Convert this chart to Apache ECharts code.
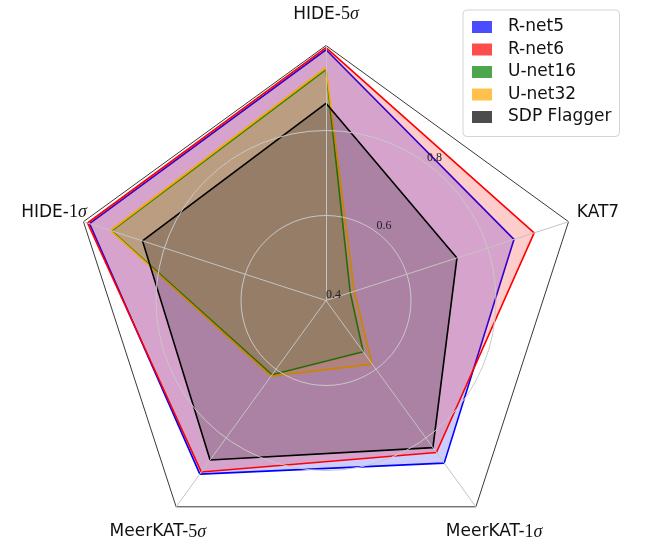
<!DOCTYPE html>
<html>
<head>
<meta charset="utf-8">
<script src="https://cdn.jsdelivr.net/npm/echarts@6/dist/echarts.min.js"></script>
<style>
  html, body { margin: 0; padding: 0; background: #fff; }
  #chart { width: 646px; height: 546px; }
</style>
</head>
<body>
<div id="chart"></div>
<script>
// Indicators in ECharts (counter-clockwise from top) order
const indicators = ['HIDE-5σ', 'HIDE-1σ', 'MeerKAT-5σ', 'MeerKAT-1σ', 'KAT7'];
const seriesNames = ['R-net5', 'R-net6', 'U-net16', 'U-net32', 'SDP Flagger'];
const rnet5  = [0.990, 0.985, 0.905, 0.873, 0.865];
const rnet6  = [0.995, 0.990, 0.899, 0.842, 0.915];
const unet16 = [0.943, 0.930, 0.616, 0.549, 0.460];
const unet32 = [0.948, 0.933, 0.620, 0.585, 0.470];
const sdp    = [0.864, 0.854, 0.864, 0.828, 0.724];
const tickLabels = ['0.4', '0.6', '0.8'];
const rMin = 0.4, rMax = 1.0, rStep = 0.2;

const colors = [[0,0,255], [255,0,0], [0,128,0], [255,165,0], [0,0,0]];
const values = [rnet5, rnet6, unet16, unet32, sdp];
const rgba = (c, a) => `rgba(${c[0]},${c[1]},${c[2]},${a})`;

const center = [326, 300.5];
const radius = 255;

const chart = echarts.init(document.getElementById('chart'), null, { renderer: 'canvas' });

const nameFormatter = function (name) {
  const m = name.match(/^(.*-)(\d)σ$/);
  if (m) return '{s|' + m[1] + '}{n|' + m[2] + '}{i|σ}';
  return '{s|' + name + '}';
};

const indicatorList = indicators.map(n => ({ name: n, min: rMin, max: rMax }));

chart.setOption({
  animation: false,
  backgroundColor: '#ffffff',
  legend: {
    orient: 'vertical',
    left: 463,
    top: 10,
    padding: [8.5, 8, 11, 9],
    borderColor: '#d4d4d4',
    borderWidth: 1,
    borderRadius: 4,
    backgroundColor: 'rgba(255,255,255,0.85)',
    itemWidth: 20,
    itemHeight: 12,
    itemGap: 5.5,
    icon: 'rect',
    textStyle: { fontFamily: 'DejaVu Sans', fontSize: 17, lineHeight: 17, color: '#111', padding: [0, 0, 0, 11] },
    data: seriesNames.map((n, i) => ({ name: n, itemStyle: { color: rgba(colors[i], 0.7), borderWidth: 0 } }))
  },
  radar: [
    {
      center: center,
      radius: radius,
      startAngle: 90,
      shape: 'circle',
      splitNumber: 3,
      z: 3,
      indicator: indicatorList,
      axisName: {
        show: true,
        formatter: nameFormatter,
        align: 'center',
        verticalAlign: 'middle',
        color: '#111',
        rich: {
          s: { fontFamily: 'DejaVu Sans', fontSize: 17, color: '#111' },
          n: { fontFamily: 'Liberation Serif', fontSize: 18, color: '#111' },
          i: { fontFamily: 'Liberation Serif', fontStyle: 'italic', fontSize: 18, color: '#111' }
        }
      },
      nameGap: 31,
      axisLine: { lineStyle: { color: '#c4c4c4', width: 1 } },
      axisTick: { show: false },
      axisLabel: { show: false },
      splitArea: { show: false },
      splitLine: { lineStyle: { color: ['rgba(0,0,0,0)', '#c8c8c8', '#c8c8c8', 'rgba(0,0,0,0)'], width: 1 } }
    },
    {
      center: center,
      radius: radius,
      startAngle: 90,
      shape: 'polygon',
      splitNumber: 1,
      z: 3,
      indicator: indicatorList,
      axisName: { show: false },
      axisLine: { show: false },
      axisTick: { show: false },
      axisLabel: { show: false },
      splitArea: { show: false },
      splitLine: { lineStyle: { color: ['rgba(0,0,0,0)', '#222'], width: 0.9 } }
    }
  ],
  polar: { center: center, radius: radius },
  angleAxis: { type: 'value', min: 0, max: 360, startAngle: 53.5, show: false },
  radiusAxis: {
    type: 'value', min: rMin, max: rMax, interval: rStep, z: 10,
    axisLine: { show: false }, axisTick: { show: false }, splitLine: { show: false },
    axisLabel: {
      margin: 0, align: 'left', verticalAlign: 'bottom',
      fontFamily: 'Liberation Serif', fontSize: 12, color: '#222',
      formatter: function (v) {
        const idx = Math.round((v - rMin) / rStep);
        return tickLabels[idx] !== undefined ? tickLabels[idx] : '';
      }
    }
  },
  series: [{
    type: 'radar',
    radarIndex: 0,
    symbol: 'none',
    data: seriesNames.map((n, i) => ({
      name: n,
      value: values[i],
      lineStyle: { color: rgba(colors[i], 1), width: 1.6 },
      itemStyle: { color: rgba(colors[i], 1) },
      areaStyle: { color: rgba(colors[i], 1), opacity: 0.2 }
    }))
  }]
});
</script>
</body>
</html>
